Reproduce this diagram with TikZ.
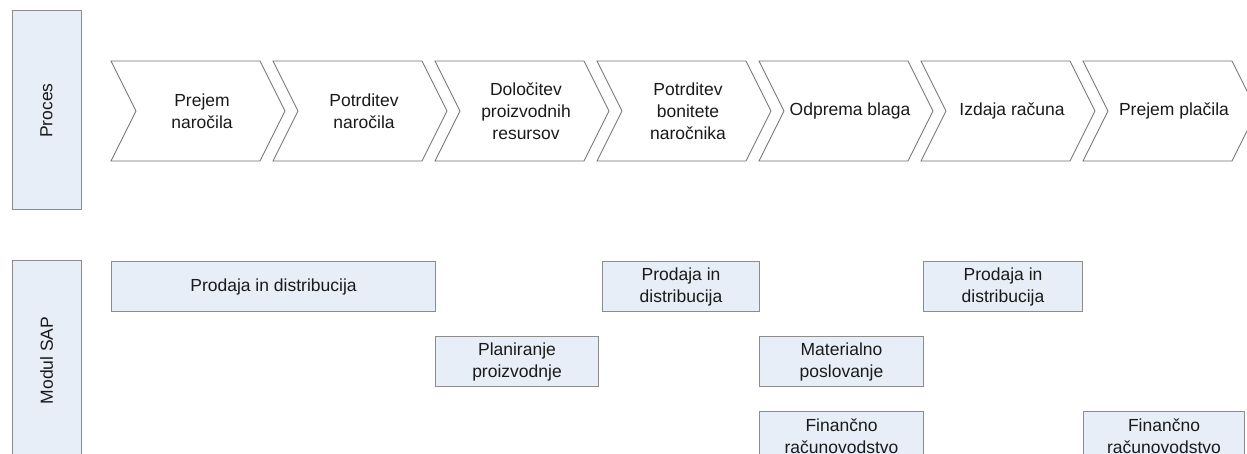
\documentclass[tikz,border=0pt]{standalone}
\usepackage{fontspec}
\setmainfont{Liberation Sans}
\definecolor{boxfill}{HTML}{E8EEF7}
\definecolor{boxline}{HTML}{8C8C8C}
\definecolor{chevline}{HTML}{707070}
\definecolor{txt}{HTML}{1A1A1A}
\newcommand\dfs{\fontsize{17.5}{22}\selectfont}
\tikzset{
  modbox/.style={draw=boxline, fill=boxfill, line width=1pt, text=txt, font=\dfs, align=center, inner sep=0pt},
  chevtext/.style={text=txt, font=\dfs, align=center, inner sep=0pt},
  chevshape/.style={draw=chevline, fill=white, line width=0.8pt, line join=miter}
}
\newcommand\chevron[3]{%
  \draw[chevshape] (#1,61) -- ++(149,0) -- ++(25,50) -- ++(-25,50) -- ++(-149,0) -- ++(25,-50) -- cycle;
  \node[chevtext] (#2) at (#1+91,111) {#3};
}
\begin{document}
\begin{tikzpicture}[x=1pt,y=-1pt]
\useasboundingbox (0,0) rectangle (1247,454);
\clip (0,0) rectangle (1247,454);
% side labels
\node[modbox, rotate=90, minimum width=199pt, minimum height=69pt] (proces) at (46.5,110.5) {Proces};
\node[modbox, rotate=90, minimum width=199pt, minimum height=69pt] (modul) at (46.5,360.5) {Modul SAP};
% process chevrons
\chevron{111}{c1}{Prejem\\naročila}
\chevron{273}{c2}{Potrditev\\naročila}
\chevron{435}{c3}{Določitev\\proizvodnih\\resursov}
\chevron{597}{c4}{Potrditev\\bonitete\\naročnika}
\chevron{759}{c5}{Odprema blaga}
\chevron{921}{c6}{Izdaja računa}
\chevron{1083}{c7}{Prejem plačila}
% modules
\node[modbox, anchor=north west, minimum width=324pt, minimum height=50pt] (sd1) at (111,261) {Prodaja in distribucija};
\node[modbox, anchor=north west, minimum width=163pt, minimum height=50pt] (pp) at (435,336) {Planiranje\\proizvodnje};
\node[modbox, anchor=north west, minimum width=157pt, minimum height=50pt] (sd2) at (602,261) {Prodaja in\\distribucija};
\node[modbox, anchor=north west, minimum width=164pt, minimum height=50pt] (mm) at (759,336) {Materialno\\poslovanje};
\node[modbox, anchor=north west, minimum width=164pt, minimum height=50pt] (fi1) at (759,411) {Finančno\\računovodstvo};
\node[modbox, anchor=north west, minimum width=159pt, minimum height=50pt] (sd3) at (923,261) {Prodaja in\\distribucija};
\node[modbox, anchor=north west, minimum width=161pt, minimum height=50pt] (fi2) at (1083,411) {Finančno\\računovodstvo};
\end{tikzpicture}
\end{document}
